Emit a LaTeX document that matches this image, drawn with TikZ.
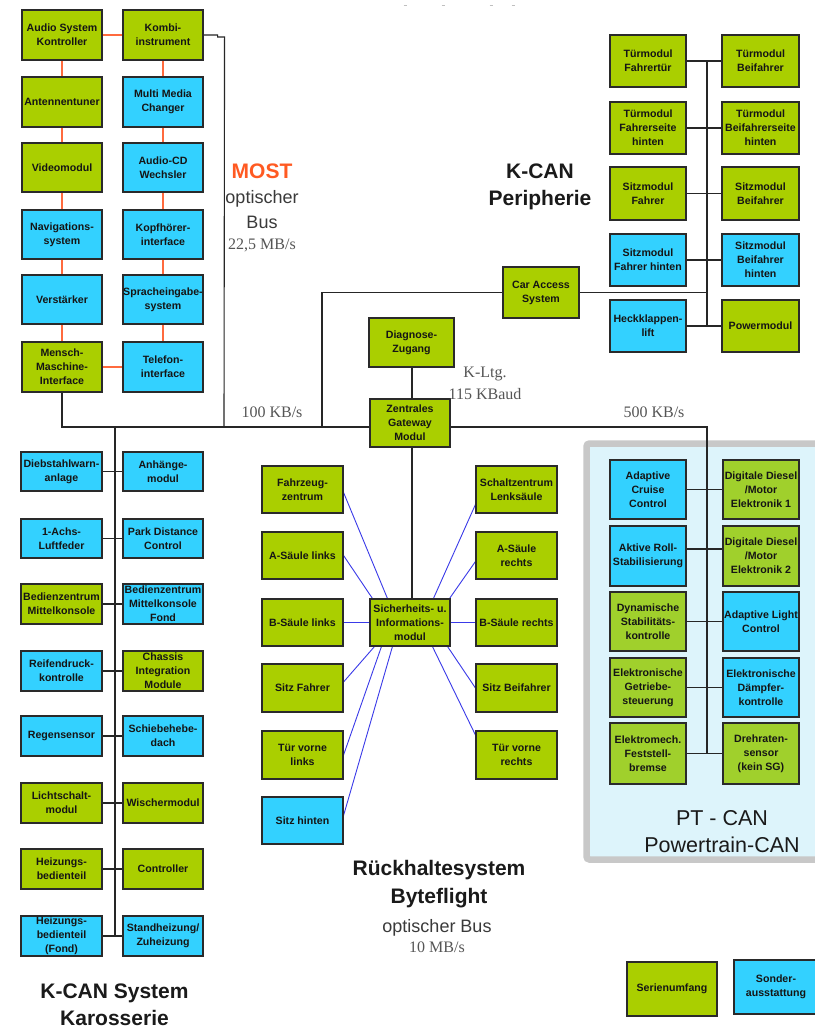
\documentclass[tikz,border=0pt]{standalone}
\usepackage{fontspec}
\setmainfont{Liberation Sans}
\newfontfamily\ratefont{Liberation Serif}
\usetikzlibrary{calc}
\pgfdeclarelayer{frame}
\pgfdeclarelayer{wires}
\pgfsetlayers{frame,wires,main}

\definecolor{sgreen}{HTML}{AACF00}
\definecolor{ptgreen}{HTML}{A0D02C}
\definecolor{scyan}{HTML}{33D1FF}
\definecolor{boxline}{HTML}{2A2A2A}
\definecolor{ecutxt}{HTML}{151515}
\definecolor{mostorange}{HTML}{FF5A22}
\definecolor{wireorange}{HTML}{FF6A3D}
\definecolor{flightblue}{HTML}{3A3AE8}
\definecolor{framegray}{HTML}{C8C8C8}
\definecolor{ptfill}{HTML}{DDF4FB}
\definecolor{titletxt}{HTML}{1A1A1A}
\definecolor{subtxt}{HTML}{3A3A3A}
\definecolor{ratetxt}{HTML}{555555}

\tikzset{
  ecubox/.style={draw=boxline, line width=1.1pt, inner sep=0pt, rectangle},
  ecutext/.style={font=\fontsize{10.6}{14}\selectfont\bfseries, text=ecutxt,
    align=center, inner sep=0pt},
  mostwire/.style={draw=wireorange, line width=1.4pt},
  buswire/.style={draw=black!85, line width=1.1pt},
  flightwire/.style={draw=flightblue, line width=0.9pt},
  title/.style={font=\fontsize{21}{27}\selectfont\bfseries, text=titletxt, anchor=base, inner sep=0pt},
  pttitle/.style={font=\fontsize{21.5}{27}\selectfont, text=titletxt, anchor=base, inner sep=0pt},
  subtitle/.style={font=\fontsize{18}{22}\selectfont, text=subtxt, anchor=base, inner sep=0pt},
  rate/.style={font=\ratefont\fontsize{16}{20}\selectfont, text=ratetxt, anchor=base, inner sep=0pt},
}

% control unit: name, centre x, centre y, width, height, fill, label
\newcommand\ecu[7]{%
  \node[ecubox, fill=#6, minimum width=#4pt, minimum height=#5pt] (#1) at (#2,#3) {};
  \node[ecutext] (#1-t) at (#1.center) {#7};}

\begin{document}
\begin{tikzpicture}[x=1pt, y=-1pt]

% ---------- MOST ----------
\ecu{asc}{62}{35}{80}{50}{sgreen}{Audio System\\Kontroller}
\ecu{kombi}{163}{35}{80}{50}{sgreen}{Kombi-\\instrument}
\ecu{antt}{62}{102}{80}{50}{sgreen}{Antennentuner}
\ecu{mmc}{163}{102}{80}{50}{scyan}{Multi Media\\Changer}
\ecu{video}{62}{167.5}{80}{49}{sgreen}{Videomodul}
\ecu{cdw}{163}{167.5}{80}{49}{scyan}{Audio-CD\\Wechsler}
\ecu{navi}{62}{234.5}{80}{49}{scyan}{Navigations-\\system}
\ecu{khi}{163}{234.5}{80}{49}{scyan}{Kopfhörer-\\interface}
\ecu{amp}{62}{299.5}{80}{49}{scyan}{Verstärker}
\ecu{speech}{163}{299.5}{80}{49}{scyan}{Spracheingabe-\\system}
\ecu{mmi}{62}{367}{80}{50}{sgreen}{Mensch-\\Maschine-\\Interface}
\ecu{tel}{163}{367}{80}{50}{scyan}{Telefon-\\interface}

% ---------- K-CAN Peripherie ----------
\ecu{tmf}{648}{61}{76}{52}{sgreen}{Türmodul\\Fahrertür}
\ecu{tmb}{760.5}{61}{77}{52}{sgreen}{Türmodul\\Beifahrer}
\ecu{tmfh}{648}{128}{76}{52}{sgreen}{Türmodul\\Fahrerseite\\hinten}
\ecu{tmbh}{760.5}{128}{77}{52}{sgreen}{Türmodul\\Beifahrerseite\\hinten}
\ecu{smf}{648}{193.5}{76}{53}{sgreen}{Sitzmodul\\Fahrer}
\ecu{smb}{760.5}{193.5}{77}{53}{sgreen}{Sitzmodul\\Beifahrer}
\ecu{smfh}{648}{260}{76}{52}{scyan}{Sitzmodul\\Fahrer hinten}
\ecu{smbh}{760.5}{260}{77}{52}{scyan}{Sitzmodul\\Beifahrer\\hinten}
\ecu{hkl}{648}{326}{76}{52}{scyan}{Heckklappen-\\lift}
\ecu{pwr}{760.5}{326}{77}{52}{sgreen}{Powermodul}
\ecu{cas}{541}{292.5}{76}{51}{sgreen}{Car Access\\System}

% ---------- Gateway ----------
\ecu{diag}{411.5}{342.5}{85}{49}{sgreen}{Diagnose-\\Zugang}
\ecu{zgm}{410}{423}{80}{48}{sgreen}{Zentrales\\Gateway\\Modul}

% ---------- Byteflight ----------
\ecu{sim}{410}{622.5}{80}{47}{sgreen}{Sicherheits- u.\\Informations-\\modul}
\ecu{fzz}{302.5}{489.5}{81}{47}{sgreen}{Fahrzeug-\\zentrum}
\ecu{asl}{302.5}{555.5}{81}{47}{sgreen}{A-Säule links}
\ecu{bsl}{302.5}{622.5}{81}{47}{sgreen}{B-Säule links}
\ecu{sfa}{302.5}{688}{81}{48}{sgreen}{Sitz Fahrer}
\ecu{tvl}{302.5}{755}{81}{48}{sgreen}{Tür vorne\\links}
\ecu{shi}{302.5}{820.5}{81}{47}{scyan}{Sitz hinten}
\ecu{szl}{516.5}{489.5}{81}{47}{sgreen}{Schaltzentrum\\Lenksäule}
\ecu{asr}{516.5}{555.5}{81}{47}{sgreen}{A-Säule\\rechts}
\ecu{bsr}{516.5}{622.5}{81}{47}{sgreen}{B-Säule rechts}
\ecu{sbf}{516.5}{688}{81}{48}{sgreen}{Sitz Beifahrer}
\ecu{tvr}{516.5}{755}{81}{48}{sgreen}{Tür vorne\\rechts}

% ---------- K-CAN Karosserie ----------
\ecu{dwa}{61.5}{471.5}{81}{39}{scyan}{Diebstahlwarn-\\anlage}
\ecu{ahm}{163}{471.5}{80}{39}{scyan}{Anhänge-\\modul}
\ecu{alf}{61.5}{538.5}{81}{39}{scyan}{1-Achs-\\Luftfeder}
\ecu{pdc}{163}{538.5}{80}{39}{scyan}{Park Distance\\Control}
\ecu{bzm}{61.5}{604}{81}{40}{sgreen}{Bedienzentrum\\Mittelkonsole}
\ecu{bzf}{163}{604}{80}{40}{scyan}{Bedienzentrum\\Mittelkonsole\\Fond}
\ecu{rdk}{61.5}{671}{81}{40}{scyan}{Reifendruck-\\kontrolle}
\ecu{cim}{163}{671}{80}{40}{sgreen}{Chassis\\Integration\\Module}
\ecu{rgs}{61.5}{736}{81}{40}{scyan}{Regensensor}
\ecu{shd}{163}{736}{80}{40}{scyan}{Schiebehebe-\\dach}
\ecu{lsm}{61.5}{803}{81}{40}{sgreen}{Lichtschalt-\\modul}
\ecu{wim}{163}{803}{80}{40}{sgreen}{Wischermodul}
\ecu{hbt}{61.5}{869}{81}{40}{sgreen}{Heizungs-\\bedienteil}
\ecu{ctl}{163}{869}{80}{40}{sgreen}{Controller}
\ecu{hbf}{61.5}{936}{81}{40}{scyan}{Heizungs-\\bedienteil\\(Fond)}
\ecu{szh}{163}{936}{80}{40}{scyan}{Standheizung/\\Zuheizung}

% ---------- PT-CAN ----------
\ecu{acc}{648}{489.5}{76}{59}{scyan}{Adaptive\\Cruise\\Control}
\ecu{dde1}{761}{489.5}{76}{59}{ptgreen}{Digitale Diesel\\/Motor\\Elektronik 1}
\ecu{ars}{648}{556}{76}{60}{scyan}{Aktive Roll-\\Stabilisierung}
\ecu{dde2}{761}{556}{76}{60}{ptgreen}{Digitale Diesel\\/Motor\\Elektronik 2}
\ecu{dsc}{648}{621.5}{76}{59}{ptgreen}{Dynamische\\Stabilitäts-\\kontrolle}
\ecu{alc}{761}{621.5}{76}{59}{scyan}{Adaptive Light\\Control}
\ecu{egs}{648}{687.5}{76}{59}{ptgreen}{Elektronische\\Getriebe-\\steuerung}
\ecu{edc}{761}{687.5}{76}{59}{scyan}{Elektronische\\Dämpfer-\\kontrolle}
\ecu{emf}{648}{753.5}{76}{61}{ptgreen}{Elektromech.\\Feststell-\\bremse}
\ecu{drs}{761}{753.5}{76}{61}{ptgreen}{Drehraten-\\sensor\\(kein SG)}

% ---------- legend ----------
\ecu{lgs}{672}{989}{90}{54}{sgreen}{Serienumfang}
\ecu{lgo}{776}{987}{84}{54}{scyan}{Sonder-\\ausstattung}

% ---------- titles and bus rates ----------
\node[title, text=mostorange] (t-most) at (262,178) {MOST};
\node[subtitle] (t-most2) at (262,203) {optischer};
\node[subtitle] (t-most3) at (262,228) {Bus};
\node[rate] (r-most) at (262,249) {22,5 MB/s};
\node[title] (t-per1) at (540,178) {K-CAN};
\node[title] (t-per2) at (540,205) {Peripherie};
\node[title] (t-kar1) at (114.5,998) {K-CAN System};
\node[title] (t-kar2) at (114.5,1025) {Karosserie};
\node[title] (t-bf1) at (439,875) {Rückhaltesystem};
\node[title] (t-bf2) at (439,903) {Byteflight};
\node[subtitle] (t-bf3) at (437,932) {optischer Bus};
\node[rate] (r-bf) at (437,952) {10 MB/s};
\node[pttitle] (t-pt1) at (722,825) {PT - CAN};
\node[pttitle] (t-pt2) at (722,852) {Powertrain-CAN};
\node[rate] (r-kcan) at (272,417) {100 KB/s};
\node[rate] (r-kl1) at (485,377) {K-Ltg.};
\node[rate] (r-kl2) at (485,399) {115 KBaud};
\node[rate] (r-pt) at (654,417) {500 KB/s};

% faint marks along the top edge
\foreach \mx in {405,443,491,513}
  \draw[gray!50, line width=1pt] (\mx-1.5,5) -- (\mx+1.5,5);

% ---------- page and PT-CAN frame ----------
\begin{pgfonlayer}{frame}
\fill[white] (0,0) rectangle (814,1028);
\draw[draw=framegray, line width=6.5pt, fill=ptfill, rounded corners=3pt]
  (586.5,443.5) rectangle (840,859.5);
\end{pgfonlayer}

% ---------- connectors ----------
\begin{pgfonlayer}{wires}
\coordinate (busR) at (707,427);
\coordinate (ptEnd) at (707,753.5);
\coordinate (mostJ) at (224,427);
\coordinate (casJ) at (322,427);
\coordinate (perTop) at (707,61);
\coordinate (perBot) at (707,326);
\coordinate (karTop) at (115,427);
\coordinate (karBot) at (115,936);
\coordinate (gwX) at (412,0);

% MOST ring
\draw[mostwire] (asc.east) -- (kombi.west);
\draw[mostwire] (asc.south) -- (antt.north);
\draw[mostwire] (antt.south) -- (video.north);
\draw[mostwire] (video.south) -- (navi.north);
\draw[mostwire] (navi.south) -- (amp.north);
\draw[mostwire] (amp.south) -- (mmi.north);
\draw[mostwire] (mmi.east) -- (tel.west);
\draw[mostwire] (kombi.south) -- (mmc.north);
\draw[mostwire] (mmc.south) -- (cdw.north);
\draw[mostwire] (cdw.south) -- (khi.north);
\draw[mostwire] (khi.south) -- (speech.north);
\draw[mostwire] (speech.south) -- (tel.north);

% main K-CAN bus and its branches
\draw[buswire] (mmi.south) -- (mmi.south |- busR) -- (busR) -- (ptEnd);
\draw[buswire] (kombi.east) -- ++(14,0) -- ++(0,2) -- ++(7,0) -- (mostJ);
\draw[buswire] (cas.west) -| (casJ);
\draw[buswire] (cas.east) -- (cas.east -| perTop);
\draw[buswire] (perTop) -- (perBot);
\draw[buswire] (tmf.east) -- (tmb.west);
\draw[buswire] (tmfh.east) -- (tmbh.west);
\draw[buswire] (smf.east) -- (smb.west);
\draw[buswire] (smfh.east) -- (smbh.west);
\draw[buswire] (hkl.east) -- (pwr.west);
\draw[buswire] (diag.south -| gwX) -- (zgm.north -| gwX);
\draw[buswire] (zgm.south -| gwX) -- (sim.north -| gwX);

% Karosserie branch
\draw[buswire] (karTop) -- (karBot);
\draw[buswire] (dwa.east) -- (ahm.west);
\draw[buswire] (alf.east) -- (pdc.west);
\draw[buswire] (bzm.east) -- (bzf.west);
\draw[buswire] (rdk.east) -- (cim.west);
\draw[buswire] (rgs.east) -- (shd.west);
\draw[buswire] (lsm.east) -- (wim.west);
\draw[buswire] (hbt.east) -- (ctl.west);
\draw[buswire] (hbf.east) -- (szh.west);

% PT-CAN branch
\draw[buswire] (acc.east) -- (dde1.west);
\draw[buswire] ($(ars.east)+(0,-7)$) -- ($(dde2.west)+(0,-7)$);
\draw[buswire] (dsc.east) -- (alc.west);
\draw[buswire] (egs.east) -- (edc.west);
\draw[buswire] (emf.east) -- (drs.west);

% Byteflight star
\draw[flightwire] ($(fzz.east)+(0,3)$) -- ($(sim.north west)+(18,0)$);
\draw[flightwire] (asl.east) -- ($(sim.north west)+(3,0)$);
\draw[flightwire] (bsl.east) -- (sim.west);
\draw[flightwire] ($(sfa.east)+(0,-6)$) -- ($(sim.south west)+(5,0)$);
\draw[flightwire] (tvl.east) -- ($(sim.south west)+(12,0)$);
\draw[flightwire] ($(shi.east)+(0,-5)$) -- ($(sim.south west)+(23,0)$);
\draw[flightwire] ($(szl.west)+(0,15)$) -- ($(sim.north west)+(64,0)$);
\draw[flightwire] ($(asr.west)+(0,6)$) -- ($(sim.north east)+(-1,0)$);
\draw[flightwire] (sim.east) -- (bsr.west);
\draw[flightwire] (sbf.west) -- ($(sim.south east)+(-3,0)$);
\draw[flightwire] ($(tvr.west)+(0,-20)$) -- ($(sim.south west)+(63,0)$);
\end{pgfonlayer}

% the page is exactly the 814 x 1028 drawing area
\pgfresetboundingbox
\useasboundingbox (0,0) rectangle (814,1028);
\end{tikzpicture}
\end{document}
